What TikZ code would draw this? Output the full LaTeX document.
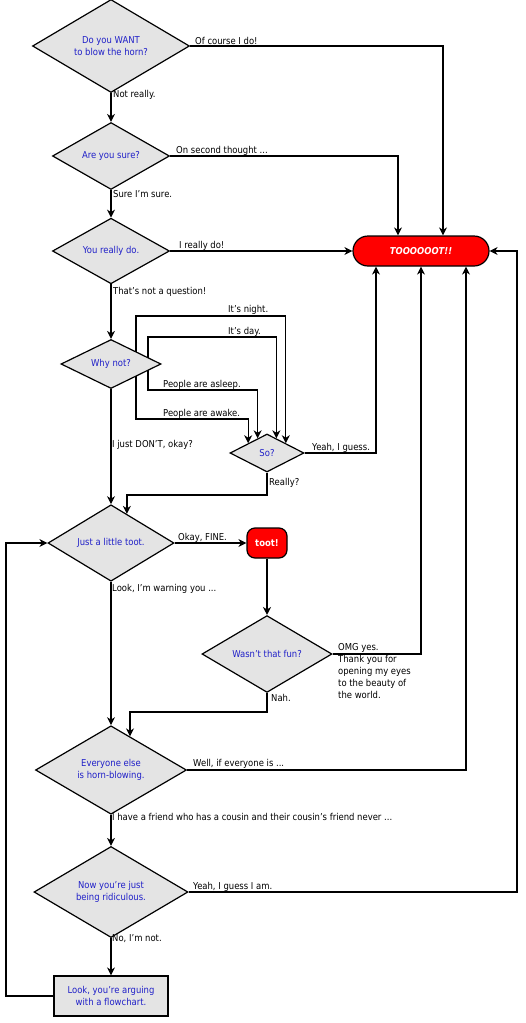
\documentclass[tikz,border=0pt]{standalone}
\usepackage{fontspec}
\setmainfont[FakeStretch=0.89]{DejaVu Sans}
\usetikzlibrary{shapes.geometric,shapes.misc,arrows.meta,calc}
\definecolor{qblue}{RGB}{32,32,200}
\definecolor{qgray}{RGB}{228,228,228}
\definecolor{tred}{RGB}{255,0,0}
\begin{document}
\begin{tikzpicture}[x=1pt,y=-1pt,
  font=\fontsize{9.5}{12}\selectfont,
  q/.style={diamond,draw=black,line width=1.2pt,fill=qgray,text=qblue,inner sep=0pt,align=center},
  qbox/.style={rectangle,draw=black,line width=1.2pt,fill=qgray,text=qblue,inner sep=0pt,align=center},
  horn/.style={rounded rectangle,draw=black,line width=1.2pt,fill=tred,text=white,inner sep=0pt,font=\fontsize{9.5}{12}\selectfont\bfseries\itshape},
  tootbox/.style={rectangle,rounded corners=8pt,draw=black,line width=1.2pt,fill=tred,text=white,inner sep=0pt,font=\fontsize{9.5}{12}\selectfont\bfseries},
  arr/.style={draw=black,line width=1.2pt,-{Stealth[length=8pt,width=8pt,inset=2.5pt]}},
  ln/.style={draw=black,line width=1.2pt},
  lab/.style={anchor=base west,inner sep=0pt,text=black}]
\useasboundingbox (0,0) rectangle (525,1023);

% loop lines behind "Why not?"
\coordinate (wnA) at (136,364);
\coordinate (wnB) at (148,364);
\node[q,minimum width=74pt,minimum height=38pt] (so) at (267,453) {So?};
\coordinate (soq1) at ($(so.north)!0.5!(so.north west)$);
\coordinate (soq2) at ($(so.north)!0.5!(so.north east)$);
\coordinate (yNight) at (0,316);
\coordinate (yDay) at (0,337);
\coordinate (yAsleep) at (0,390);
\coordinate (yAwake) at (0,419);
\draw[arr] (wnA) |- (so.north east |- yNight) -- (so.north east);
\draw[arr] (wnB) |- (soq2 |- yDay) -- (soq2);
\draw[arr] (wnB) |- (soq1 |- yAsleep) -- (soq1);
\draw[arr] (wnA) |- (so.north west |- yAwake) -- (so.north west);

% nodes
\node[q,minimum width=157pt,minimum height=79pt] (d1) at (111,46) {Do you WANT\\to blow the horn?};
\node[q,minimum width=117pt,minimum height=59pt] (d2) at (111,156) {Are you sure?};
\node[q,minimum width=117pt,minimum height=59pt] (d3) at (111,251) {You really do.};
\node[q,minimum width=100pt,minimum height=49pt] (wn) at (111,364) {Why not?};
\node[q,minimum width=126pt,minimum height=63pt] (jt) at (111,543) {Just a little toot.};
\node[q,minimum width=130pt,minimum height=64pt] (wf) at (267,654) {Wasn't that fun?};
\node[q,minimum width=151pt,minimum height=76pt] (ee) at (111,770) {Everyone else\\is horn-blowing.};
\node[q,minimum width=154pt,minimum height=76pt] (nr) at (111,892) {Now you're just\\being ridiculous.};
\node[qbox,minimum width=114pt,minimum height=40pt] (bx) at (111,996) {Look, you're arguing\\with a flowchart.};
\node[horn,minimum width=136pt,minimum height=30pt] (T) at (421,251) {TOOOOOOT!!};
\node[tootbox,minimum width=40pt,minimum height=30pt] (tt) at (267,543) {toot!};

\coordinate (jtq) at ($(jt.north)!0.5!(jt.north east)$);
\coordinate (eeq) at ($(ee.north)!0.5!(ee.north east)$);
\coordinate (yReally) at (0,495);
\coordinate (yNah) at (0,712);
\coordinate (xLeft) at (6,0);
\coordinate (xRight) at (517,0);

% connectors
\draw[arr] (d1.east) -| ([xshift=22pt]T.north);
\draw[arr] (d1.south) -- (d2.north);
\draw[arr] (d2.east) -| ([xshift=-23pt]T.north);
\draw[arr] (d2.south) -- (d3.north);
\draw[arr] (d3.east) -- (T.west);
\draw[arr] (d3.south) -- (wn.north);
\draw[arr] (wn.south) -- (jt.north);
\draw[arr] (so.east) -| ([xshift=-45pt]T.south);
\draw[arr] (so.south) -- (so.south |- yReally) -| (jtq);
\draw[arr] (jt.east) -- (tt.west);
\draw[arr] (tt.south) -- (wf.north);
\draw[arr] (wf.east) -| (T.south);
\draw[arr] (wf.south) -- (wf.south |- yNah) -| (eeq);
\draw[arr] (jt.south) -- (ee.north);
\draw[arr] (ee.east) -| ([xshift=45pt]T.south);
\draw[arr] (ee.south) -- (nr.north);
\draw[arr] (nr.east) -| (xRight |- T.east) -- (T.east);
\draw[arr] (nr.south) -- (bx.north);
\draw[arr] (bx.west) -| (xLeft |- jt.west) -- (jt.west);

% labels
\node[lab] (l1) at (195,44) {Of course I do!};
\node[lab] (l2) at (113,97) {Not really.};
\node[lab] (l3) at (176,153) {On second thought ...};
\node[lab] (l4) at (113,197) {Sure I'm sure.};
\node[lab] (l5) at (179,248) {I really do!};
\node[lab] (l6) at (113,294) {That's not a question!};
\node[lab] (l7) at (228,312) {It's night.};
\node[lab] (l8) at (228,334) {It's day.};
\node[lab] (l9) at (163,387) {People are asleep.};
\node[lab] (l10) at (163,416) {People are awake.};
\node[lab] (l11) at (112,447) {I just DON'T, okay?};
\node[lab] (l12) at (312,450) {Yeah, I guess.};
\node[lab] (l13) at (269,485) {Really?};
\node[lab] (l14) at (178,540) {Okay, FINE.};
\node[lab] (l15) at (112,591) {Look, I'm warning you ...};
\node[lab,align=left] (l16) at (338,698) {OMG yes.\\Thank you for\\opening my eyes\\to the beauty of\\the world.};
\node[lab] (l17) at (271,701) {Nah.};
\node[lab] (l18) at (193,766) {Well, if everyone is ...};
\node[lab] (l19) at (112,820) {I have a friend who has a cousin and their cousin's friend never ...};
\node[lab] (l20) at (193,889) {Yeah, I guess I am.};
\node[lab] (l21) at (112,941) {No, I'm not.};
\end{tikzpicture}
\end{document}
